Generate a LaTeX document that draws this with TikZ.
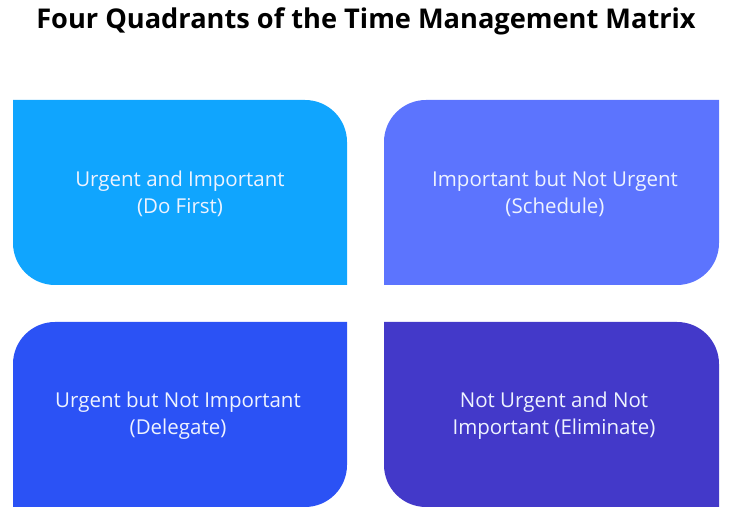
\documentclass[tikz,border=0pt]{standalone}
\usepackage{fontspec}
\setmainfont{Open Sans}
\newfontfamily\titlefont{Open Sans}
\definecolor{qone}{HTML}{10A5FE}
\definecolor{qtwo}{HTML}{5C74FE}
\definecolor{qthree}{HTML}{2B52F5}
\definecolor{qfour}{HTML}{4339C9}
\definecolor{qtext}{HTML}{EEF3FF}
\begin{document}
\begin{tikzpicture}[x=1pt,y=1pt,
  qlabel/.style={text=qtext,font=\fontsize{20.5}{27}\selectfont,align=center,inner sep=0pt},
  titlestyle/.style={font=\titlefont\bfseries\fontsize{27.2}{32}\selectfont,inner sep=0pt}]
\useasboundingbox (0,0) rectangle (732,508);
\def\r{42}
% top-left quadrant
\fill[qone] (13,408) -- (347-\r,408) arc[start angle=90,end angle=0,radius=\r] -- (347,223) -- (13+\r,223) arc[start angle=270,end angle=180,radius=\r] -- cycle;
% top-right quadrant
\fill[qtwo] (719,408) -- (719,223+\r) arc[start angle=0,end angle=-90,radius=\r] -- (384,223) -- (384,408-\r) arc[start angle=180,end angle=90,radius=\r] -- cycle;
% bottom-left quadrant
\fill[qthree] (347,186) -- (347,1+\r) arc[start angle=0,end angle=-90,radius=\r] -- (13,1) -- (13,186-\r) arc[start angle=180,end angle=90,radius=\r] -- cycle;
% bottom-right quadrant
\fill[qfour] (384,186) -- (719-\r,186) arc[start angle=90,end angle=0,radius=\r] -- (719,1) -- (384+\r,1) arc[start angle=270,end angle=180,radius=\r] -- cycle;
\node[titlestyle] (title) at (366,487) {Four Quadrants of the Time Management Matrix};
\node[qlabel] (q1) at (180,314) {Urgent and Important\\(Do First)};
\node[qlabel] (q2) at (555,314) {Important but Not Urgent\\(Schedule)};
\node[qlabel] (q3) at (178,92) {Urgent but Not Important\\(Delegate)};
\node[qlabel] (q4) at (554,92) {Not Urgent and Not\\Important (Eliminate)};
\end{tikzpicture}
\end{document}
